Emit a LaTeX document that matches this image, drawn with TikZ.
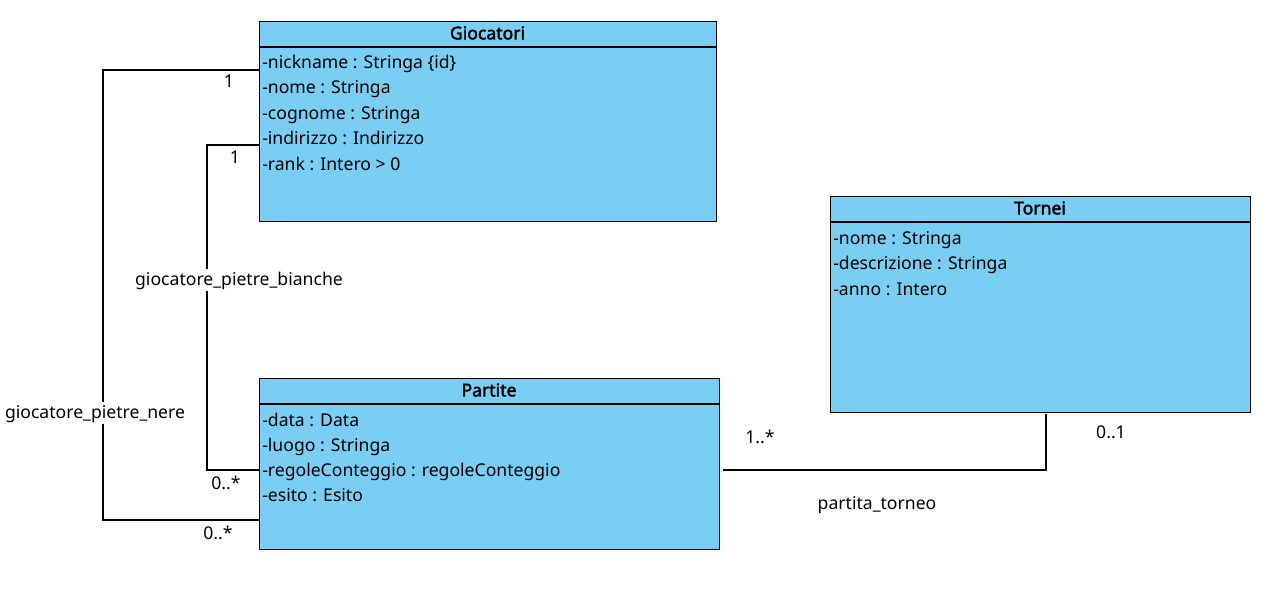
\documentclass[tikz,border=0pt]{standalone}
\usepackage{fontspec}
\setmainfont{Noto Sans}
\newfontfamily\titlefont[FakeBold=2.2]{Noto Sans}
\definecolor{clsfill}{RGB}{122,206,244}
\begin{document}
\begin{tikzpicture}[x=0.75pt,y=-0.75pt,
  cls/.style={draw=black,fill=clsfill,line width=0.9pt,inner sep=0pt,anchor=north west},
  ttl/.style={font=\fontsize{13.2}{15}\titlefont,inner sep=0pt,text height=11pt,text depth=3pt},
  attr/.style={font=\fontsize{13.2}{15}\selectfont,anchor=west,inner sep=0pt,text height=11pt,text depth=3pt},
  lbl/.style={font=\fontsize{13.2}{15}\selectfont,inner sep=1pt,text height=11pt,text depth=3pt},
  conn/.style={draw=black,line width=0.9pt}]
\useasboundingbox (0,0) rectangle (1276,615);
% Giocatori
\node[cls,minimum width=457*0.75pt,minimum height=200*0.75pt] (gio) at (259,21) {};
\draw[line width=0.9pt] (259,47) -- (716,47);
\node[ttl] (giot) at (487.5,34) {Giocatori};
\node[attr] (g1) at (262,63) {-nickname : Stringa \{id\}};
\node[attr] (g2) at (262,88) {-nome : Stringa};
\node[attr] (g3) at (262,114) {-cognome : Stringa};
\node[attr] (g4) at (262,139) {-indirizzo : Indirizzo};
\node[attr] (g5) at (262,165) {-rank : Intero > 0};
% Tornei
\node[cls,minimum width=420*0.75pt,minimum height=216*0.75pt] (tor) at (830,196) {};
\draw[line width=0.9pt] (830,222) -- (1250,222);
\node[ttl] (tort) at (1040,209) {Tornei};
\node[attr] (t1) at (833,239) {-nome : Stringa};
\node[attr] (t2) at (833,264) {-descrizione : Stringa};
\node[attr] (t3) at (833,290) {-anno : Intero};
% Partite
\node[cls,minimum width=460*0.75pt,minimum height=171*0.75pt] (par) at (259,378) {};
\draw[line width=0.9pt] (259,404) -- (719,404);
\node[ttl] (part) at (489,391) {Partite};
\node[attr] (p1) at (262,421) {-data : Data};
\node[attr] (p2) at (262,446) {-luogo : Stringa};
\node[attr] (p3) at (262,471) {-regoleConteggio : regoleConteggio};
\node[attr] (p4) at (262,496) {-esito : Esito};
% connector anchors
\coordinate (a1) at (259,70);
\coordinate (a2) at (259,520);
\coordinate (b1) at (259,145);
\coordinate (b2) at (259,470);
\coordinate (c1) at (723,470);
\coordinate (c2) at (1046,414);
% giocatore_pietre_nere
\draw[conn] (a1) -- (103,70) -- (103,520) -- (a2);
\node[lbl,fill=white] (lpn) at (95,413) {giocatore\_pietre\_nere};
\node[lbl] (m1) at (229,82) {1};
\node[lbl] (m2) at (218,534) {0..*};
% giocatore_pietre_bianche
\draw[conn] (b1) -- (207,145) -- (207,470) -- (b2);
\node[lbl,fill=white] (lpb) at (239,280) {giocatore\_pietre\_bianche};
\node[lbl] (m3) at (235,158) {1};
\node[lbl] (m4) at (226,484) {0..*};
% partita_torneo
\draw[conn] (c1) -- (1046,470) -- (c2);
\node[lbl] (lpt) at (877,504) {partita\_torneo};
\node[lbl] (m5) at (760,438) {1..*};
\node[lbl] (m6) at (1111,433) {0..1};
\end{tikzpicture}
\end{document}
